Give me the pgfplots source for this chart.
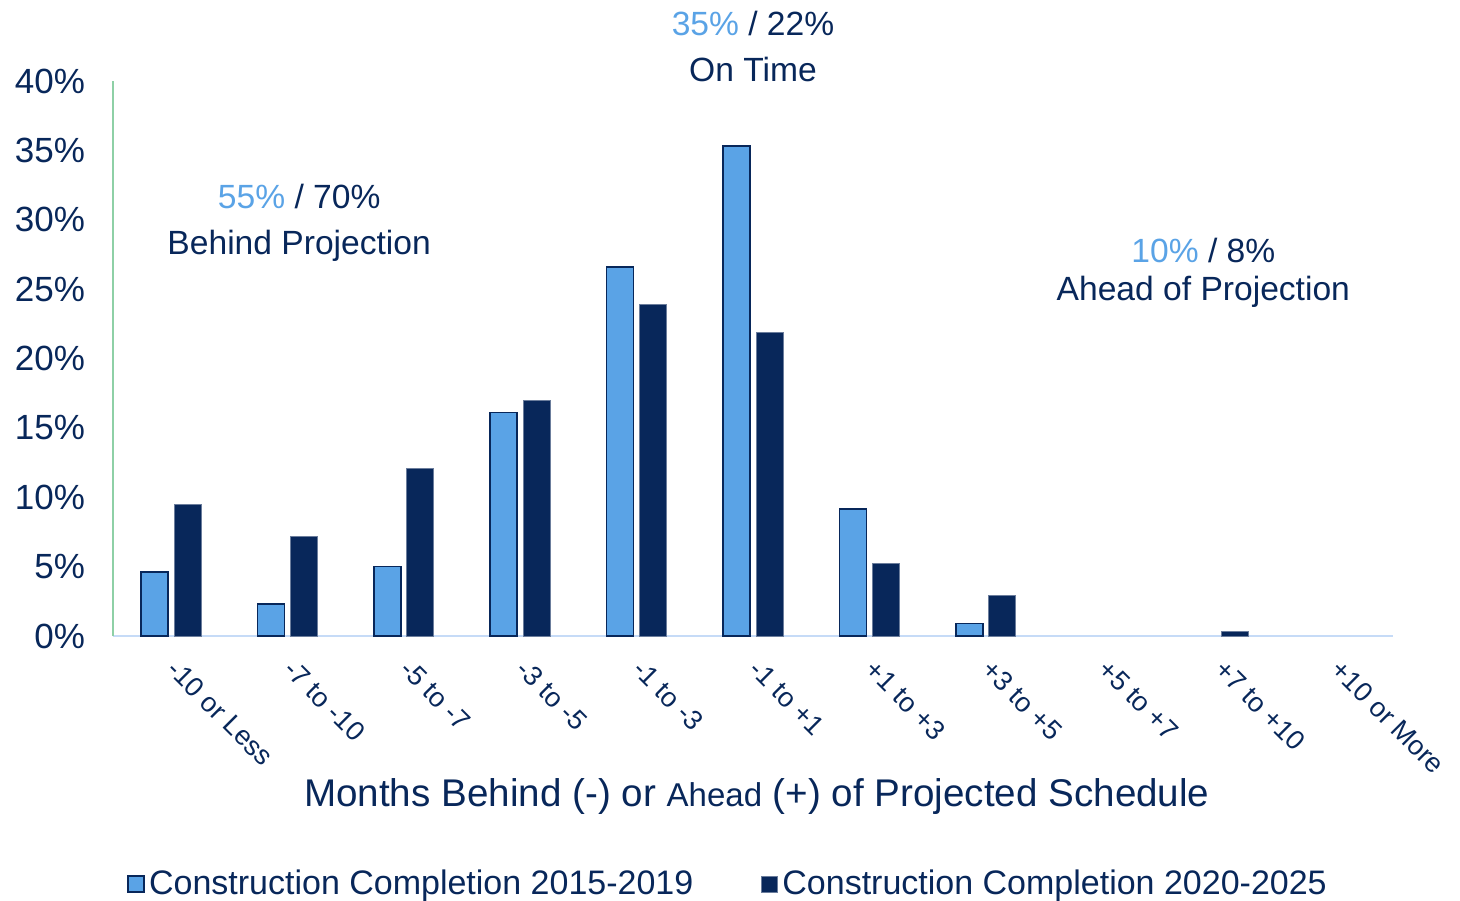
\documentclass[border=0pt]{standalone}
\usepackage{fontspec}
\setmainfont{Liberation Sans}
\usepackage{pgfplots}
\pgfplotsset{compat=1.18}
\definecolor{navy}{HTML}{08275A}
\definecolor{lblue}{HTML}{5AA3E6}
\definecolor{yline}{HTML}{8ED0A6}
\definecolor{xline}{HTML}{C6DBF7}
\begin{document}
\begin{tikzpicture}
\useasboundingbox (-56.5pt,-132pt) rectangle (673.5pt,318pt);
\begin{axis}[
  scale only axis, width=640pt, height=277.5pt,
  xmin=-0.5, xmax=10.5, ymin=0, ymax=40,
  ybar=3pt, bar width=13.5pt,
  axis x line*=bottom, axis y line*=left,
  x axis line style={draw=xline, line width=1pt, -},
  y axis line style={draw=yline, line width=1pt, -},
  xtick={0,...,10},
  xticklabels={-10 or Less,-7 to -10,-5 to -7,-3 to -5,-1 to -3,-1 to +1,+1 to +3,+3 to +5,+5 to +7,+7 to +10,+10 or More},
  xticklabel style={xshift=4pt, yshift=-6pt, rotate=-45, anchor=north west, font=\fontsize{13.6}{16}\selectfont, text=navy},
  ytick={0,5,...,40},
  yticklabel={\pgfmathprintnumber{\tick}\%},
  yticklabel style={font=\fontsize{17.5}{19}\selectfont, text=navy, xshift=-10.5pt},
  /pgf/number format/assume math mode=true,
  major tick length=0pt,
  clip=false,
  legend columns=2,
  legend style={at={(0.011,-0.447)}, anchor=west, draw=none, fill=none,
     font=\fontsize{17}{19}\selectfont, text=navy,
     /tikz/every even column/.append style={column sep=32pt}, inner sep=0pt},
  legend image code/.code={\draw[#1] (0pt,-4pt) rectangle (8pt,4pt);},
]
\addplot[fill=lblue, draw=navy, line width=0.8pt] coordinates {
 (0,4.6) (1,2.3) (2,5.0) (3,16.1) (4,26.6) (5,35.3) (6,9.15) (7,0.9)};
\addlegendentry{Construction Completion 2015-2019}
\addplot[fill=navy, draw=navy!60!white, line width=0.5pt] coordinates {
 (0,9.5) (1,7.2) (2,12.1) (3,17.0) (4,23.9) (5,21.9) (6,5.2) (7,2.9) (9,0.3)};
\addlegendentry{Construction Completion 2020-2025}

\node[align=center, text=navy, font=\fontsize{16.8}{23}\selectfont] at (axis cs:5.0,42.5)
  {{\color{lblue}35\%} / 22\%\\On Time};
\node[align=center, text=navy, font=\fontsize{16.8}{23}\selectfont] at (axis cs:1.1,29.8)
  {{\color{lblue}55\%} / 70\%\\Behind Projection};
\node[align=center, text=navy, font=\fontsize{16.8}{19}\selectfont] at (axis cs:8.87,26.2)
  {{\color{lblue}10\%} / 8\%\\Ahead of Projection};
\node[text=navy, font=\fontsize{19.3}{21}\selectfont] at (rel axis cs:0.503,-0.29)
  {Months Behind (-) or {\fontsize{16.5}{18}\selectfont Ahead} (+) of Projected Schedule};
\end{axis}
\end{tikzpicture}
\end{document}
